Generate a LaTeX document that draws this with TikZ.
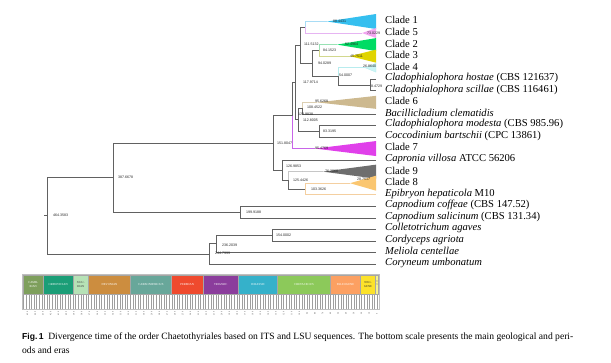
\documentclass[tikz,border=0pt]{standalone}
\usepackage{fontspec}
\setmainfont{Liberation Serif}
\newfontfamily\arialf{Liberation Sans}
\usetikzlibrary{calc}
\definecolor{cOne}{HTML}{35BFEF}\definecolor{cOneL}{HTML}{A8DCF5}
\definecolor{cFive}{HTML}{F2A6F0}\definecolor{cFiveL}{HTML}{E6B4F2}
\definecolor{cTwo}{HTML}{00DC64}\definecolor{cTwoL}{HTML}{98E2B4}
\definecolor{cThree}{HTML}{E0D400}\definecolor{cThreeL}{HTML}{D2D88E}
\definecolor{cFour}{HTML}{CBF5F5}\definecolor{cFourL}{HTML}{B8ECEE}
\definecolor{cSix}{HTML}{CDB98F}\definecolor{cSixL}{HTML}{DCCFB2}
\definecolor{cSeven}{HTML}{E040EA}\definecolor{cSevenL}{HTML}{C865E8}
\definecolor{cNine}{HTML}{6E6E6E}\definecolor{cNineL}{HTML}{C6C6C6}
\definecolor{cEight}{HTML}{FAC670}\definecolor{cEightL}{HTML}{F4CFA0}
\definecolor{gCamb}{HTML}{7E9F5C}\definecolor{gOrdo}{HTML}{1B9E77}
\definecolor{gSilu}{HTML}{B6E2B6}\definecolor{gDevo}{HTML}{CC8D3F}
\definecolor{gCarb}{HTML}{68A79A}\definecolor{gPerm}{HTML}{EF4A2E}
\definecolor{gTria}{HTML}{8B3D9C}\definecolor{gJura}{HTML}{35B1CA}
\definecolor{gCret}{HTML}{8CC95A}\definecolor{gPale}{HTML}{FCA062}
\definecolor{gNeog}{HTML}{FCE22A}\definecolor{gQuat}{HTML}{F7F48A}
\begin{document}
\begin{tikzpicture}[x=1pt,y=-1pt,
  br/.style={draw=black!62, line width=0.7pt},
  cb/.style={line width=0.9pt},
  nl/.style={font=\arialf\fontsize{3.6}{4}\selectfont, anchor=west, inner sep=0pt, text=black!85},
  tip/.style={font=\fontsize{10.6}{11}\selectfont, anchor=west, inner sep=0pt},
  era/.style={draw=black!35, line width=0.3pt},
  eratext/.style={font=\fontsize{3}{3.3}\selectfont, align=center, text=white, inner sep=0pt},
  tick/.style={font=\fontsize{2.2}{2.4}\selectfont, rotate=90, inner sep=0pt, text=black!70},
  captext/.style={anchor=base west, inner sep=0pt, font=\fontsize{9.6}{11}\selectfont}]
\useasboundingbox (0,0) rectangle (611,362);
% tip coordinates
\foreach \i in {0,...,21}{\coordinate (t\i) at (376,{21.5+11.55*\i});}
% triangle left vertices
\coordinate (c1) at (327,21.5);
\coordinate (c5) at (362,33.05);
\coordinate (c2) at (337,44.6);
\coordinate (c3) at (350,56.15);
\coordinate (c4) at (365,67.7);
\coordinate (c6) at (317,102.35);
\coordinate (c7) at (315,148.55);
\coordinate (c9) at (323,171.65);
\coordinate (c8) at (350,183.2);
% internal nodes
\coordinate (n15) at (305,27.3);
\coordinate (n84) at (319,50.4);
\coordinate (n8) at (370,85.0);
\coordinate (n54) at (338,76.35);
\coordinate (n94) at (312,63.4);
\coordinate (n111) at (300,45.3);
\coordinate (n108) at (302,108.1);
\coordinate (n83) at (319,131.2);
\coordinate (n112) at (298,119.7);
\coordinate (n117) at (295,82.5);
\coordinate (n123) at (292,115.5);
\coordinate (n103) at (305,189.0);
\coordinate (n125) at (288,180.3);
\coordinate (n126) at (282,170.2);
\coordinate (n151) at (273,142.9);
\coordinate (n199) at (240,212.1);
\coordinate (n387) at (113,177.5);
\coordinate (n154) at (272,235.2);
\coordinate (n236) at (216,243.8);
\coordinate (n244) at (209,253.9);
\coordinate (root) at (47,215.7);
\coordinate (stub) at (44,215.7);
% gray branches
\draw[br] (stub) -- (root);
\draw[br] (root) |- (n387); \draw[br] (root) |- (n244);
\draw[br] (n387) |- (n151); \draw[br] (n387) |- (n199);
\draw[br] (n199) |- (t16); \draw[br] (n199) |- (t17);
\draw[br] (n244) |- (n236); \draw[br] (n244) |- (t21);
\draw[br] (n236) |- (n154); \draw[br] (n236) |- (t20);
\draw[br] (n154) |- (t18); \draw[br] (n154) |- (t19);
\draw[br] (n151) |- (n123); \draw[br] (n151) |- (n126);
\draw[br] (n126) |- (t12); \draw[br] (n126) |- (n125);
\draw[br] (n125) |- (n103);
\draw[br] (n123) |- (n117);
\draw[br] (n117) |- (n111); \draw[br] (n117) |- (n112);
\draw[br] (n112) |- (n108); \draw[br] (n112) |- (n83);
\draw[br] (n108) |- (t8);
\draw[br] (n83) |- (t9); \draw[br] (n83) |- (t10);
\draw[br] (n111) |- (n15); \draw[br] (n111) |- (n94);
\draw[br] (n94) |- (n84); \draw[br] (n94) |- (n54);
\draw[br] (n54) |- (n8);
\draw[br] (n8) |- (t5); \draw[br] (n8) |- (t6);
% coloured branches
\draw[cb, draw=cOneL] (n15) |- (c1);
\draw[cb, draw=cFiveL] (n15) |- (c5);
\draw[cb, draw=cTwoL] (n84) |- (c2);
\draw[cb, draw=cThreeL] (n84) |- (c3);
\draw[cb, draw=cFourL] (n54) |- (c4);
\draw[cb, draw=cSixL] (n108) |- (c6);
\draw[cb, draw=cSevenL] (n123) |- (c7);
\draw[cb, draw=cNineL] (n125) |- (c9);
\draw[cb, draw=cEightL] (n103) |- (c8);
\draw[cb, draw=cEightL] (n103) |- (t15);
% triangles
\fill[cOne] (c1) -- ([yshift=7.5pt]t0) -- ([yshift=-7.5pt]t0) -- cycle;
\fill[cFive] (c5) -- ([yshift=5pt]t1) -- ([yshift=-5pt]t1) -- cycle;
\fill[cTwo] (c2) -- ([yshift=6.5pt]t2) -- ([yshift=-6.5pt]t2) -- cycle;
\fill[cThree] (c3) -- ([yshift=6.5pt]t3) -- ([yshift=-6.5pt]t3) -- cycle;
\filldraw[fill=cFour, draw=cFourL, line width=0.3pt] (c4) -- ([yshift=4.5pt]t4) -- ([yshift=-4.5pt]t4) -- cycle;
\fill[cSix] (c6) -- ([yshift=6.5pt]t7) -- ([yshift=-6.5pt]t7) -- cycle;
\fill[cSeven] (c7) -- ([yshift=7.5pt]t11) -- ([yshift=-7.5pt]t11) -- cycle;
\fill[cNine] (c9) -- ([yshift=7pt]t13) -- ([yshift=-7pt]t13) -- cycle;
\fill[cEight] (c8) -- ([yshift=7.5pt]t14) -- ([yshift=-7.5pt]t14) -- cycle;
% node labels
\node[nl] (l464) at ([xshift=6pt]root) {464.3583};
\node[nl] (l387) at ([xshift=5pt]n387) {387.6678};
\node[nl] (l199) at ([xshift=6pt]n199) {199.9188};
\node[nl] (l244) at ([xshift=6pt,yshift=1pt]n244) {244.7999};
\node[nl] (l236) at ([xshift=6pt,yshift=-1pt]n236) {236.2039};
\node[nl] (l154) at ([xshift=4pt]n154) {154.0002};
\node[nl] (l151) at ([xshift=4pt]n151) {151.8047};
\node[nl] (l126) at ([xshift=4pt,yshift=4pt]n126) {126.9853};
\node[nl] (l125) at ([xshift=5pt]n125) {125.4426};
\node[nl] (l103) at ([xshift=6pt]n103) {103.3626};
\node[nl] (l123) at ([xshift=6pt,yshift=1.5pt]n123) {123.9838};
\node[nl] (l117) at ([xshift=8pt]n117) {117.9714};
\node[nl] (l112) at ([xshift=5pt,yshift=-1pt]n112) {112.8005};
\node[nl] (l108) at ([xshift=5pt,yshift=1pt]n108) {108.4522};
\node[nl] (l83) at ([xshift=4pt]n83) {83.3195};
\node[nl] (l111) at ([xshift=4pt,yshift=1pt]n111) {111.5132};
\node[nl] (l94) at ([xshift=6pt]n94) {94.0289};
\node[nl] (l84) at ([xshift=4pt]n84) {84.1523};
\node[nl] (l54) at ([xshift=1pt,yshift=1.5pt]n54) {54.0007};
\node[nl] (l8) at ([xshift=1pt,yshift=-1pt]n8) {8.4729};
\node[nl] (lc1) at ([xshift=6pt]c1) {88.4431};
\node[nl] (lc5) at ([xshift=5pt]c5) {73.0229};
\node[nl] (lc2) at ([xshift=8pt]c2) {52.4964};
\node[nl] (lc3) at ([xshift=0pt]c3) {45.7511};
\node[nl] (lc4) at ([xshift=-2pt,yshift=1pt]c4) {26.8640};
\node[nl] (lc6) at ([xshift=-2pt,yshift=1pt]c6) {95.6268};
\node[nl] (lc7) at ([xshift=0pt]c7) {95.4769};
\node[nl] (lc9) at ([xshift=2pt]c9) {76.2068};
\node[nl] (lc8) at ([xshift=7pt,yshift=4pt]c8) {28.7517};
% tip labels
\begin{scope}[every node/.style={tip}]
\node (L0) at ([xshift=9pt,yshift=1.2pt]t0) {Clade 1};
\node (L1) at ([xshift=9pt,yshift=1.2pt]t1) {Clade 5};
\node (L2) at ([xshift=9pt,yshift=1.2pt]t2) {Clade 2};
\node (L3) at ([xshift=9pt,yshift=1.2pt]t3) {Clade 3};
\node (L4) at ([xshift=9pt,yshift=1.2pt]t4) {Clade 4};
\node (L5) at ([xshift=9pt,yshift=1.2pt]t5) {\textit{Cladophialophora hostae} (CBS 121637)};
\node (L6) at ([xshift=9pt,yshift=1.2pt]t6) {\textit{Cladophialophora scillae} (CBS 116461)};
\node (L7) at ([xshift=9pt,yshift=1.2pt]t7) {Clade 6};
\node (L8) at ([xshift=9pt,yshift=1.2pt]t8) {\textit{Bacillicladium clematidis}};
\node (L9) at ([xshift=9pt,yshift=1.2pt]t9) {\textit{Cladophialophora modesta} (CBS 985.96)};
\node (L10) at ([xshift=9pt,yshift=1.2pt]t10) {\textit{Coccodinium bartschii} (CPC 13861)};
\node (L11) at ([xshift=9pt,yshift=1.2pt]t11) {Clade 7};
\node (L12) at ([xshift=9pt,yshift=1.2pt]t12) {\textit{Capronia villosa} ATCC 56206};
\node (L13) at ([xshift=9pt,yshift=1.2pt]t13) {Clade 9};
\node (L14) at ([xshift=9pt,yshift=1.2pt]t14) {Clade 8};
\node (L15) at ([xshift=9pt,yshift=1.2pt]t15) {\textit{Epibryon hepaticola} M10};
\node (L16) at ([xshift=9pt,yshift=1.2pt]t16) {\textit{Capnodium coffeae} (CBS 147.52)};
\node (L17) at ([xshift=9pt,yshift=1.2pt]t17) {\textit{Capnodium salicinum} (CBS 131.34)};
\node (L18) at ([xshift=9pt,yshift=1.2pt]t18) {\textit{Colletotrichum agaves}};
\node (L19) at ([xshift=9pt,yshift=1.2pt]t19) {\textit{Cordyceps agriota}};
\node (L20) at ([xshift=9pt,yshift=1.2pt]t20) {\textit{Meliola centellae}};
\node (L21) at ([xshift=9pt,yshift=1.2pt]t21) {\textit{Coryneum umbonatum}};
\end{scope}
% geological time scale
\fill[white] (22,294) rectangle (379,309);
\foreach \k in {0,...,136}{\draw[black!38, line width=0.75pt] ({23.8+2.6*\k},294.5) -- ({23.8+2.6*\k},308.5);}
\draw[black!25, line width=0.3pt] (22,274.5) rectangle (379.5,309);
\filldraw[era, fill=gCamb] (23,275) rectangle (43.5,294);
\filldraw[era, fill=gOrdo] (43.5,275) rectangle (73,294);
\filldraw[era, fill=gSilu] (73,275) rectangle (88.5,294);
\filldraw[era, fill=gDevo] (88.5,275) rectangle (130.5,294);
\filldraw[era, fill=gCarb] (130.5,275) rectangle (171.5,294);
\filldraw[era, fill=gPerm] (171.5,275) rectangle (203,294);
\filldraw[era, fill=gTria] (203,275) rectangle (238.5,294);
\filldraw[era, fill=gJura] (238.5,275) rectangle (277.5,294);
\filldraw[era, fill=gCret] (277.5,275) rectangle (330.5,294);
\filldraw[era, fill=gPale] (330.5,275) rectangle (360.5,294);
\filldraw[era, fill=gNeog] (360.5,275) rectangle (375.5,294);
\filldraw[era, fill=gQuat] (375.5,275) rectangle (378.5,294);
\node[eratext] (eCamb) at (33.2,284.5) {CAMB-\\RIAN};
\node[eratext] (eOrdo) at (58.2,284.5) {ORDOVICIAN};
\node[eratext, text=black!75] (eSilu) at (80.7,284.5) {SILU-\\RIAN};
\node[eratext] (eDevo) at (109.5,284.5) {DEVONIAN};
\node[eratext] (eCarb) at (151,284.5) {CARBONIFEROUS};
\node[eratext] (ePerm) at (187.2,284.5) {PERMIAN};
\node[eratext] (eTria) at (220.7,284.5) {TRIASSIC};
\node[eratext] (eJura) at (258,284.5) {JURASSIC};
\node[eratext] (eCret) at (304,284.5) {CRETACEOUS};
\node[eratext] (ePale) at (345.5,284.5) {PALEOGENE};
\node[eratext, text=black!80] (eNeog) at (368,284.5) {NEO-\\GENE};
\node[eratext, text=black!70, rotate=-90, font=\fontsize{1.6}{1.8}\selectfont] (eQuat) at (377,283) {QUAT.};
\foreach \k in {0,...,45}{\pgfmathtruncatemacro{\v}{10*\k}\node[tick] at ({377-7.77*\k},313.5) {\v};}
% caption
\node[captext] (cap1) at (22,339) {{\arialf\bfseries\fontsize{8.6}{10}\selectfont Fig.\,1}\hspace{4.6pt}Divergence time of the order Chaetothyriales based on ITS and LSU sequences. The bottom scale presents the main geological and peri-};
\node[captext] (cap2) at (22,353) {ods and eras};
\end{tikzpicture}
\end{document}
